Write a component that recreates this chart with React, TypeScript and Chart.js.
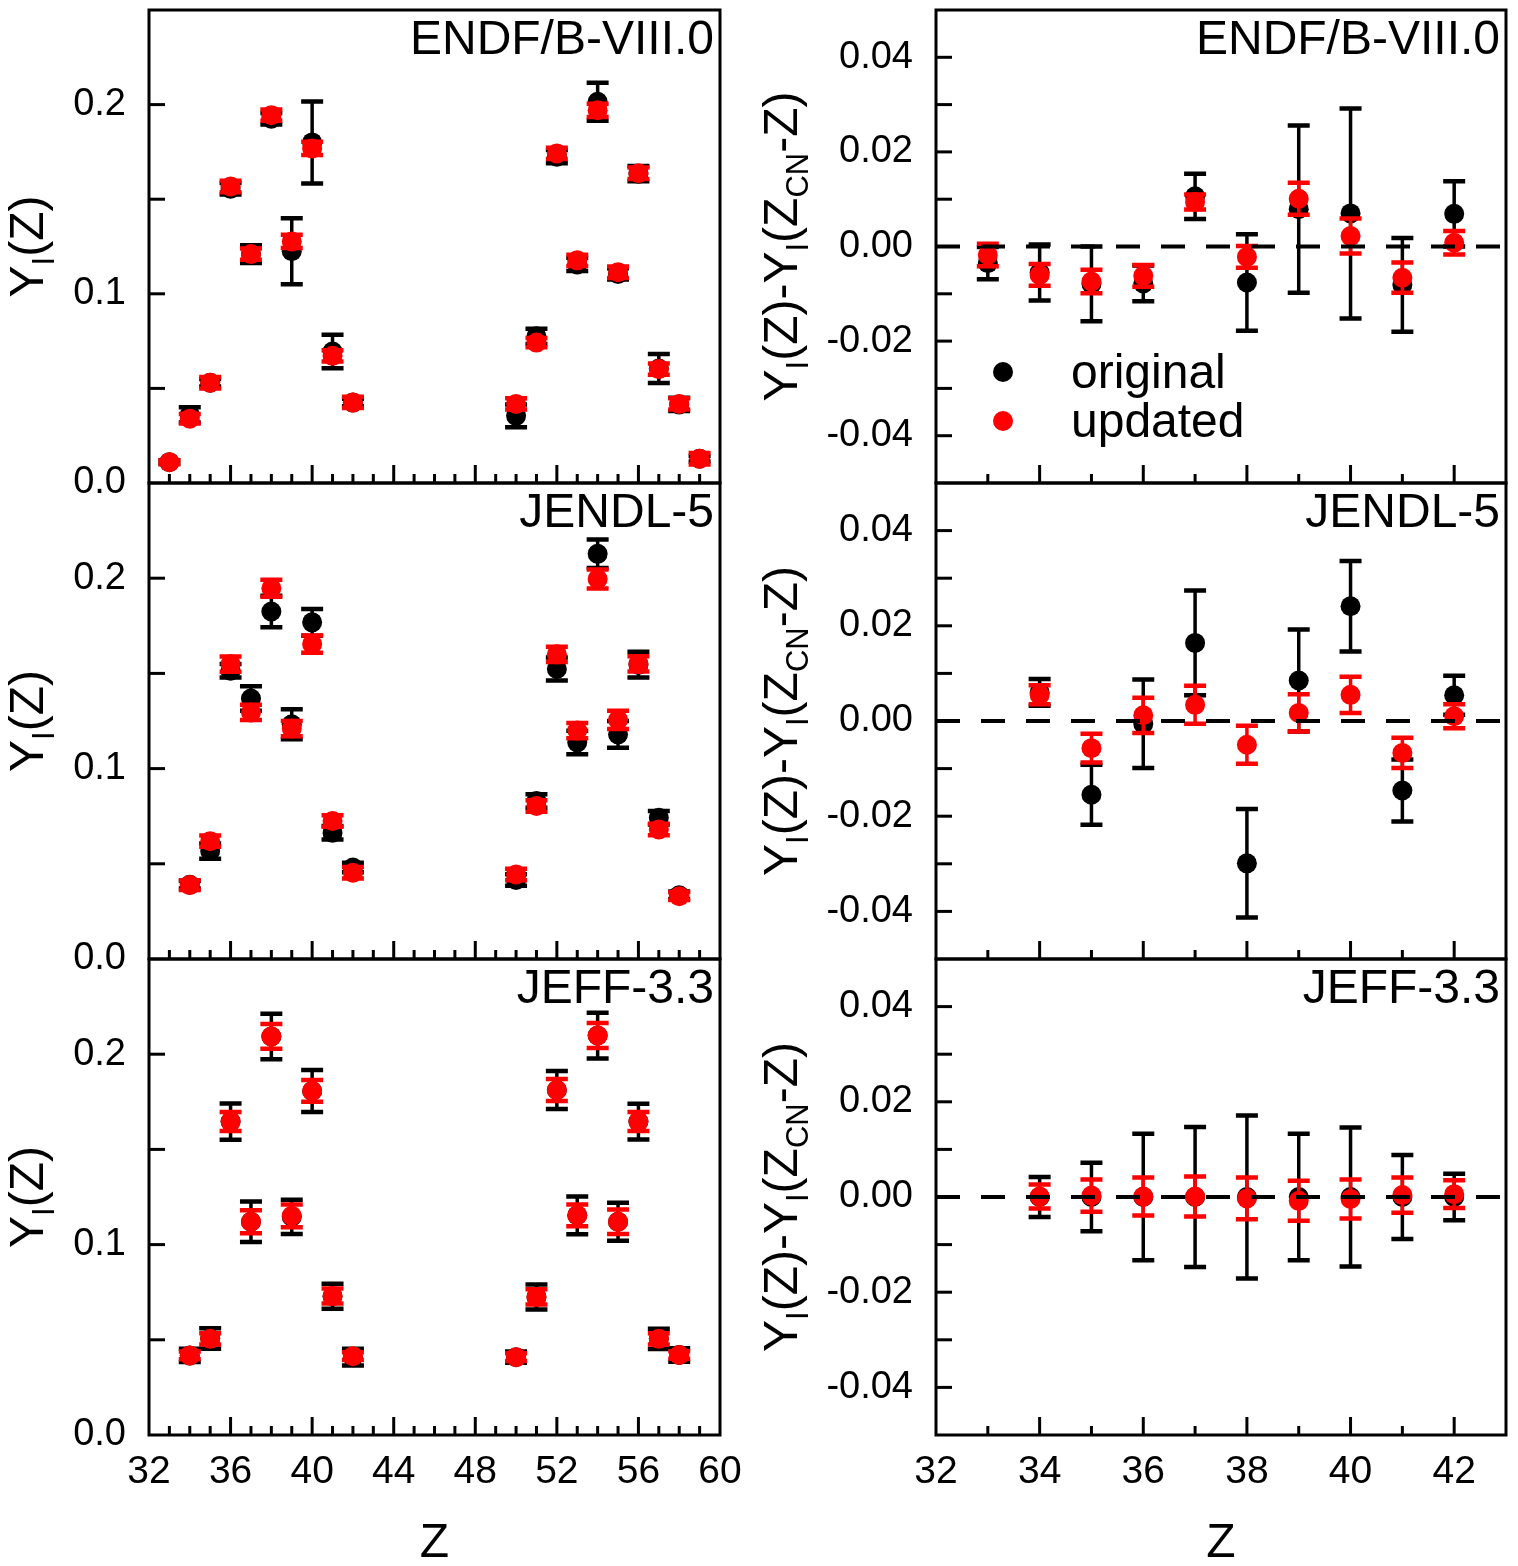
import React, { useEffect, useRef } from 'react';
import { Chart, registerables } from 'chart.js';

Chart.register(...registerables);

const FONT = "'Liberation Sans', Arial, Helvetica, sans-serif";

// ---------------- DATA ----------------
// Left column: independent yields Y_I(Z)
const Z_WIDE_ENDF = [33, 34, 35, 36, 37, 38, 39, 40, 41, 42, 50, 51, 52, 53, 54, 55, 56, 57, 58, 59];
const ENDF_Y_ORIG = [0.011, 0.036, 0.053, 0.1555, 0.121, 0.1925, 0.1225, 0.180, 0.0695, 0.0425, 0.0355, 0.0775, 0.1725, 0.1155, 0.2015, 0.1105, 0.1635, 0.0605, 0.0415, 0.0128];
const ENDF_Y_ORIG_ERR = [0.001, 0.004, 0.002, 0.003, 0.0047, 0.003, 0.0174, 0.0217, 0.0088, 0.002, 0.006, 0.004, 0.0035, 0.0035, 0.010, 0.003, 0.004, 0.0077, 0.0035, 0.0015];
const ENDF_Y_UPD = [0.011, 0.034, 0.053, 0.1567, 0.121, 0.1944, 0.1277, 0.1768, 0.0672, 0.0426, 0.0418, 0.0742, 0.1742, 0.1177, 0.197, 0.1114, 0.1637, 0.0602, 0.0418, 0.0128];
const ENDF_Y_UPD_ERR = [0.001, 0.0025, 0.003, 0.003, 0.003, 0.003, 0.0035, 0.0035, 0.003, 0.003, 0.003, 0.0025, 0.003, 0.003, 0.0035, 0.003, 0.003, 0.003, 0.003, 0.003];

const Z_WIDE = [34, 35, 36, 37, 38, 39, 40, 41, 42, 50, 51, 52, 53, 54, 55, 56, 57, 58];
const JENDL_Y_ORIG = [0.039, 0.0567, 0.1514, 0.1368, 0.1825, 0.1233, 0.1768, 0.0663, 0.048, 0.0415, 0.083, 0.1523, 0.1137, 0.2128, 0.118, 0.1546, 0.0742, 0.0335];
const JENDL_Y_ORIG_ERR = [0.002, 0.004, 0.0035, 0.0064, 0.0083, 0.0079, 0.007, 0.0035, 0.0025, 0.003, 0.0035, 0.006, 0.0062, 0.0075, 0.007, 0.0068, 0.0035, 0.002];
const JENDL_Y_UPD = [0.0388, 0.0619, 0.1549, 0.1295, 0.1947, 0.121, 0.1654, 0.0725, 0.0453, 0.0444, 0.0804, 0.160, 0.120, 0.1996, 0.1256, 0.155, 0.068, 0.033];
const JENDL_Y_UPD_ERR = [0.0025, 0.003, 0.004, 0.004, 0.0045, 0.004, 0.0045, 0.003, 0.003, 0.003, 0.003, 0.004, 0.004, 0.005, 0.0048, 0.004, 0.003, 0.002];

const JEFF_Y_ORIG = [0.0418, 0.0507, 0.1646, 0.112, 0.2093, 0.1146, 0.1807, 0.0729, 0.0409, 0.0409, 0.0725, 0.1812, 0.1154, 0.2098, 0.112, 0.1646, 0.0505, 0.042];
const JEFF_Y_ORIG_ERR = [0.0035, 0.0054, 0.0095, 0.0107, 0.012, 0.009, 0.011, 0.0066, 0.0044, 0.003, 0.0066, 0.010, 0.0099, 0.012, 0.010, 0.0094, 0.0053, 0.0035];
const JEFF_Y_UPD = [0.0418, 0.0505, 0.1646, 0.112, 0.2093, 0.1151, 0.1807, 0.073, 0.0414, 0.0409, 0.0725, 0.1812, 0.1154, 0.2098, 0.112, 0.1646, 0.0505, 0.042];
const JEFF_Y_UPD_ERR = [0.002, 0.003, 0.005, 0.006, 0.0065, 0.006, 0.0057, 0.004, 0.002, 0.002, 0.004, 0.0058, 0.0057, 0.0066, 0.0064, 0.005, 0.003, 0.002];

// Right column: Y_I(Z) - Y_I(Z_CN - Z)
const Z_NARROW_ENDF = [33, 34, 35, 36, 37, 38, 39, 40, 41, 42];
const ENDF_D_ORIG = [-0.0035, -0.0055, -0.0079, -0.0078, 0.0106, -0.0076, 0.0079, 0.0070, -0.0081, 0.0069];
const ENDF_D_ORIG_ERR = [0.0034, 0.0059, 0.0079, 0.0038, 0.0048, 0.0102, 0.0177, 0.0222, 0.0099, 0.0069];
const ENDF_D_UPD = [-0.0018, -0.006, -0.0074, -0.0062, 0.0094, -0.0022, 0.0101, 0.0022, -0.0066, 0.0008];
const ENDF_D_UPD_ERR = [0.0024, 0.0023, 0.0025, 0.0023, 0.0016, 0.0023, 0.0034, 0.0037, 0.0032, 0.0025];

const Z_NARROW = [34, 35, 36, 37, 38, 39, 40, 41, 42];
const JENDL_D_ORIG = [0.006, -0.0155, -0.0006, 0.0164, -0.0299, 0.0085, 0.0241, -0.0146, 0.0054];
const JENDL_D_ORIG_ERR = [0.0028, 0.0063, 0.0093, 0.011, 0.0114, 0.0107, 0.0095, 0.0065, 0.0041];
const JENDL_D_UPD = [0.0055, -0.0057, 0.0012, 0.0034, -0.005, 0.0017, 0.0055, -0.0067, 0.001];
const JENDL_D_UPD_ERR = [0.002, 0.003, 0.0037, 0.004, 0.004, 0.0039, 0.0038, 0.0032, 0.0025];

const JEFF_D_ORIG = [0, 0, 0, 0, 0, 0, 0, 0, 0];
const JEFF_D_ORIG_ERR = [0.0042, 0.0072, 0.0133, 0.0147, 0.0171, 0.0133, 0.0146, 0.0088, 0.0049];
const JEFF_D_UPD = [0.0001, 0.0003, 0.0001, 0.0001, -0.0003, -0.0008, -0.0004, 0.0004, 0.0006];
const JEFF_D_UPD_ERR = [0.0025, 0.0034, 0.004, 0.0042, 0.0044, 0.0042, 0.0041, 0.0037, 0.0029];

// Tick labels
const X_TICKS_LEFT = [32, 36, 40, 44, 48, 52, 56, 60];
const X_TICKS_RIGHT = [32, 34, 36, 38, 40, 42];
const Y_TICKS_LEFT = [0, 0.1, 0.2];
const Y_TICKS_RIGHT = [-0.04, -0.02, 0, 0.02, 0.04];

const LIBRARIES = ['ENDF/B-VIII.0', 'JENDL-5', 'JEFF-3.3'];
const SERIES_NAMES = ['original', 'updated'];
const X_TITLE = 'Z';

// ---------------- LAYOUT ----------------
const W = 1518;
const H = 1566;
const YW = 140; // y-axis box width (labels are clipped to this box)
const XH = 100; // x-axis box height
const COLS = [
  { left: 149, right: 720 },
  { left: 936, right: 1506 },
];
const ROWS = [
  { top: 7, bottom: 483 },
  { top: 483, bottom: 959 },
  { top: 959, bottom: 1435 },
];
const RED = '#ff0000';
const BLACK = '#000000';
const CAP = 11;

type Seg = { t: string; sub?: boolean };
const LEFT_TITLE: Seg[] = [{ t: 'Y' }, { t: 'I', sub: true }, { t: '(Z)' }];
const RIGHT_TITLE: Seg[] = [
  { t: 'Y' }, { t: 'I', sub: true }, { t: '(Z)-Y' }, { t: 'I', sub: true }, { t: '(Z' }, { t: 'CN', sub: true }, { t: '-Z)' },
];

type PanelSpec = {
  col: number;
  row: number;
  label: string;
  z: number[];
  orig: number[];
  origErr: number[];
  upd: number[];
  updErr: number[];
};

const PANELS: PanelSpec[] = [
  { col: 0, row: 0, label: LIBRARIES[0], z: Z_WIDE_ENDF, orig: ENDF_Y_ORIG, origErr: ENDF_Y_ORIG_ERR, upd: ENDF_Y_UPD, updErr: ENDF_Y_UPD_ERR },
  { col: 0, row: 1, label: LIBRARIES[1], z: Z_WIDE, orig: JENDL_Y_ORIG, origErr: JENDL_Y_ORIG_ERR, upd: JENDL_Y_UPD, updErr: JENDL_Y_UPD_ERR },
  { col: 0, row: 2, label: LIBRARIES[2], z: Z_WIDE, orig: JEFF_Y_ORIG, origErr: JEFF_Y_ORIG_ERR, upd: JEFF_Y_UPD, updErr: JEFF_Y_UPD_ERR },
  { col: 1, row: 0, label: LIBRARIES[0], z: Z_NARROW_ENDF, orig: ENDF_D_ORIG, origErr: ENDF_D_ORIG_ERR, upd: ENDF_D_UPD, updErr: ENDF_D_UPD_ERR },
  { col: 1, row: 1, label: LIBRARIES[1], z: Z_NARROW, orig: JENDL_D_ORIG, origErr: JENDL_D_ORIG_ERR, upd: JENDL_D_UPD, updErr: JENDL_D_UPD_ERR },
  { col: 1, row: 2, label: LIBRARIES[2], z: Z_NARROW, orig: JEFF_D_ORIG, origErr: JEFF_D_ORIG_ERR, upd: JEFF_D_UPD, updErr: JEFF_D_UPD_ERR },
];

function drawRotatedRich(ctx: CanvasRenderingContext2D, segs: Seg[], baseX: number, centerY: number) {
  const main = `48px ${FONT}`;
  const sub = `31px ${FONT}`;
  ctx.save();
  ctx.translate(baseX, centerY);
  ctx.rotate(-Math.PI / 2);
  let total = 0;
  const widths: number[] = [];
  for (const s of segs) {
    ctx.font = s.sub ? sub : main;
    const w = ctx.measureText(s.t).width;
    widths.push(w);
    total += w;
  }
  let x = -total / 2;
  ctx.fillStyle = BLACK;
  ctx.textAlign = 'left';
  ctx.textBaseline = 'alphabetic';
  segs.forEach((s, i) => {
    ctx.font = s.sub ? sub : main;
    ctx.fillText(s.t, x, s.sub ? 11 : 0);
    x += widths[i];
  });
  ctx.restore();
}

function drawErrorBars(chart: any, ds: any) {
  const ctx: CanvasRenderingContext2D = chart.ctx;
  const xs = chart.scales.x;
  const ys = chart.scales.y;
  ctx.save();
  ctx.strokeStyle = ds.errColor;
  ctx.lineCap = 'butt';
  ds.data.forEach((pt: any, i: number) => {
    const e = ds.errors[i];
    const x = xs.getPixelForValue(pt.x);
    const yT = ys.getPixelForValue(pt.y + e);
    const yB = ys.getPixelForValue(pt.y - e);
    ctx.lineWidth = 3.5;
    ctx.beginPath();
    ctx.moveTo(x, yT);
    ctx.lineTo(x, yB);
    ctx.stroke();
    ctx.lineWidth = 4.5;
    ctx.beginPath();
    ctx.moveTo(x - CAP, yT);
    ctx.lineTo(x + CAP, yT);
    ctx.moveTo(x - CAP, yB);
    ctx.lineTo(x + CAP, yB);
    ctx.stroke();
  });
  ctx.restore();
}

function makeChart(canvas: HTMLCanvasElement, p: PanelSpec): Chart {
  const col = COLS[p.col];
  const row = ROWS[p.row];
  const isLeft = p.col === 0;
  const isBottom = p.row === 2;
  const xMin = 32;
  const xMax = isLeft ? 60 : 43;
  const yMin = isLeft ? 0 : -0.05;
  const yMax = isLeft ? 0.25 : 0.05;
  const xTicks = isLeft ? X_TICKS_LEFT : X_TICKS_RIGHT;
  const yTicks = isLeft ? Y_TICKS_LEFT : Y_TICKS_RIGHT;

  const deco = {
    id: 'deco' + p.col + p.row,
    beforeDatasetDraw(chart: any, args: any) {
      const ds = chart.data.datasets[args.index];
      drawErrorBars(chart, ds);
    },
    afterDatasetsDraw(chart: any) {
      if (isLeft) return;
      const ctx: CanvasRenderingContext2D = chart.ctx;
      const { left, right } = chart.chartArea;
      const y0 = chart.scales.y.getPixelForValue(0);
      ctx.save();
      ctx.strokeStyle = BLACK;
      ctx.lineWidth = 4;
      ctx.setLineDash([24, 21]);
      ctx.beginPath();
      ctx.moveTo(left, y0);
      ctx.lineTo(right, y0);
      ctx.stroke();
      ctx.restore();
    },
    afterDraw(chart: any) {
      const ctx: CanvasRenderingContext2D = chart.ctx;
      const { left, right, top, bottom } = chart.chartArea;
      const xs = chart.scales.x;
      const ys = chart.scales.y;
      ctx.save();
      ctx.strokeStyle = BLACK;
      ctx.lineWidth = 3;
      // inward ticks: x
      const majorStep = isLeft ? 4 : 2;
      for (let v = xMin + 1; v < xMax; v++) {
        const x = xs.getPixelForValue(v);
        const len = (v - 32) % majorStep === 0 ? 18 : 9;
        ctx.beginPath();
        ctx.moveTo(x, bottom);
        ctx.lineTo(x, bottom - len);
        ctx.stroke();
      }
      // inward ticks: y
      const yStep = isLeft ? 0.05 : 0.01;
      const n = Math.round((yMax - yMin) / yStep);
      for (let k = 1; k < n; k++) {
        const v = yMin + k * yStep;
        const y = ys.getPixelForValue(v);
        ctx.beginPath();
        ctx.moveTo(left, y);
        ctx.lineTo(left + 16, y);
        ctx.stroke();
      }
      // frame
      ctx.strokeRect(left, top, right - left, bottom - top);
      ctx.restore();

      // panel label
      ctx.save();
      ctx.fillStyle = BLACK;
      ctx.font = `48px ${FONT}`;
      ctx.textAlign = 'right';
      ctx.textBaseline = 'alphabetic';
      ctx.fillText(p.label, right - 6, top + 44);
      ctx.restore();

      // y title
      const cy = (top + bottom) / 2;
      drawRotatedRich(ctx, isLeft ? LEFT_TITLE : RIGHT_TITLE, isLeft ? 43 : 797, cy);

      // x title
      if (isBottom) {
        ctx.save();
        ctx.fillStyle = BLACK;
        ctx.font = `48px ${FONT}`;
        ctx.textAlign = 'center';
        ctx.textBaseline = 'alphabetic';
        ctx.fillText(X_TITLE, (left + right) / 2, 1557);
        ctx.restore();
      }

      // legend
      if (!isLeft && p.row === 0) {
        const items = [
          { name: SERIES_NAMES[0], color: BLACK, y: top + 362 },
          { name: SERIES_NAMES[1], color: RED, y: top + 411 },
        ];
        ctx.save();
        for (const it of items) {
          ctx.fillStyle = it.color;
          ctx.beginPath();
          ctx.arc(left + 67, it.y, 10, 0, Math.PI * 2);
          ctx.fill();
          ctx.fillStyle = BLACK;
          ctx.font = `48px ${FONT}`;
          ctx.textAlign = 'left';
          ctx.textBaseline = 'alphabetic';
          ctx.fillText(it.name, left + 135, it.y + 16);
        }
        ctx.restore();
      }
    },
  };

  const mk = (vals: number[]) => p.z.map((z, i) => ({ x: z, y: vals[i] }));

  return new Chart(canvas, {
    type: 'scatter',
    data: {
      datasets: [
        {
          label: SERIES_NAMES[1],
          data: mk(p.upd),
          errors: p.updErr,
          errColor: RED,
          order: 0,
          pointRadius: 10,
          pointHoverRadius: 10,
          pointBackgroundColor: RED,
          pointBorderColor: RED,
          pointBorderWidth: 0,
          showLine: false,
        } as any,
        {
          label: SERIES_NAMES[0],
          data: mk(p.orig),
          errors: p.origErr,
          errColor: BLACK,
          order: 1,
          pointRadius: 10,
          pointHoverRadius: 10,
          pointBackgroundColor: BLACK,
          pointBorderColor: BLACK,
          pointBorderWidth: 0,
          showLine: false,
        } as any,
      ],
    },
    options: {
      responsive: false,
      animation: false,
      devicePixelRatio: 1,
      events: [],
      layout: {
        padding: {
          left: col.left - YW,
          right: W - col.right,
          top: row.top,
          bottom: H - row.bottom - XH,
        },
      },
      plugins: {
        legend: { display: false },
        tooltip: { enabled: false },
      },
      scales: {
        x: {
          type: 'linear',
          min: xMin,
          max: xMax,
          grid: { display: false, drawTicks: false },
          border: { display: false },
          ticks: {
            display: isBottom,
            padding: 14,
            autoSkip: false,
            maxRotation: 0,
            color: BLACK,
            font: { size: 39, family: FONT },
            callback: (v: any) => String(v),
          },
          afterBuildTicks: (s: any) => {
            s.ticks = xTicks.map((v) => ({ value: v }));
          },
          afterFit: (s: any) => {
            s.height = XH;
            s.paddingLeft = 0;
            s.paddingRight = 0;
          },
        },
        y: {
          type: 'linear',
          min: yMin,
          max: yMax,
          grid: { display: false, drawTicks: false },
          border: { display: false },
          ticks: {
            padding: 23,
            autoSkip: false,
            color: BLACK,
            font: { size: 38, family: FONT },
            callback: (v: any) => Number(v).toFixed(isLeft ? 1 : 2),
          },
          afterBuildTicks: (s: any) => {
            s.ticks = yTicks.map((v) => ({ value: v }));
          },
          afterFit: (s: any) => {
            s.width = YW;
            s.paddingTop = 0;
            s.paddingBottom = 0;
          },
        },
      },
    } as any,
    plugins: [deco as any],
  });
}

export default function App() {
  const refs = useRef<(HTMLCanvasElement | null)[]>([]);
  useEffect(() => {
    const charts = PANELS.map((p, i) => makeChart(refs.current[i] as HTMLCanvasElement, p));
    return () => charts.forEach((c) => c.destroy());
  }, []);
  return (
    <div style={{ position: 'absolute', left: 0, top: 0, width: W, height: H, background: '#fff', overflow: 'hidden' }}>
      {PANELS.map((p, i) => (
        <canvas
          key={i}
          ref={(el) => {
            refs.current[i] = el;
          }}
          width={W}
          height={H}
          style={{ position: 'absolute', left: 0, top: 0, width: W, height: H }}
        />
      ))}
    </div>
  );
}
